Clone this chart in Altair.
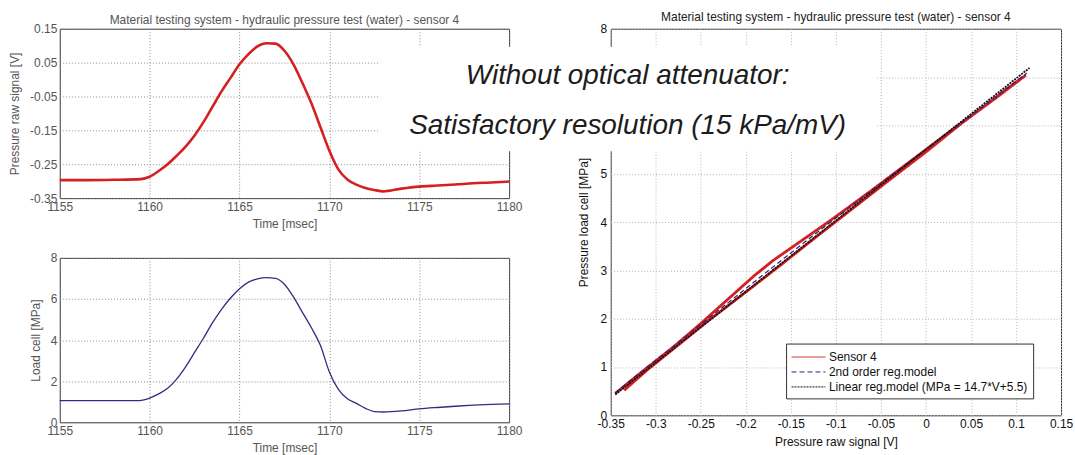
import altair as alt
import pandas as pd

FONT = "Liberation Sans"
TITLE = "Material testing system - hydraulic pressure test (water) - sensor 4"

# ---- pressure raw signal [V] over time [msec]
raw_time = [1155, 1156.5, 1158, 1159.5, 1160.0, 1160.5, 1161.0, 1161.5, 1162.0, 1162.5,
            1163.0, 1163.5, 1164.0, 1164.5, 1165.0, 1165.5, 1166.0, 1166.5, 1167.0, 1167.5,
            1168.0, 1168.5, 1169.0, 1169.5, 1170.0, 1170.5, 1171.0, 1171.5, 1172.0, 1172.5,
            1173.0, 1174.0, 1175.0, 1176.0, 1177.0, 1178.0, 1179.0, 1180.0]
raw_volts = [-0.297, -0.297, -0.296, -0.294, -0.287, -0.27, -0.25, -0.225, -0.198, -0.165,
             -0.125, -0.08, -0.035, 0.005, 0.045, 0.075, 0.098, 0.107, 0.106, 0.085,
             0.045, -0.01, -0.07, -0.14, -0.21, -0.265, -0.295, -0.31, -0.32, -0.326,
             -0.33, -0.322, -0.316, -0.313, -0.31, -0.306, -0.304, -0.301]

# ---- load cell [MPa] over time [msec]
cell_time = [1155, 1157, 1159.3, 1160.0, 1160.5, 1161.0, 1161.5, 1162.0, 1162.5, 1163.0,
             1163.5, 1164.0, 1164.5, 1165.0, 1165.5, 1166.0, 1166.5, 1167.0, 1167.5, 1168.0,
             1168.5, 1169.0, 1169.5, 1170.0, 1170.5, 1171.0, 1171.5, 1172.0, 1172.5, 1173.0,
             1174.0, 1175.0, 1176.0, 1177.0, 1178.0, 1179.0, 1180.0]
cell_mpa = [1.05, 1.05, 1.05, 1.18, 1.38, 1.65, 2.1, 2.7, 3.4, 4.1,
            4.85, 5.5, 6.05, 6.5, 6.82, 6.98, 7.04, 7.0, 6.72, 6.1,
            5.35, 4.6, 3.75, 2.45, 1.6, 1.15, 0.92, 0.68, 0.52, 0.5,
            0.55, 0.65, 0.72, 0.78, 0.83, 0.87, 0.9]

# ---- calibration: load cell vs raw signal (loading branch, then unloading branch)
sensor_v = [-0.345, -0.33, -0.31, -0.28, -0.25, -0.22, -0.19, -0.17, -0.15, -0.13,
            -0.11, -0.09, -0.06, -0.03, 0.0, 0.03, 0.06, 0.09, 0.111,
            0.08, 0.04, 0.0, -0.04, -0.08, -0.12, -0.16, -0.2, -0.24, -0.28, -0.31, -0.335]
sensor_mpa = [0.45, 0.68, 0.98, 1.42, 1.9, 2.4, 2.9, 3.2, 3.46, 3.72,
              3.98, 4.25, 4.66, 5.08, 5.5, 5.92, 6.33, 6.76, 7.04,
              6.6, 6.05, 5.45, 4.88, 4.3, 3.72, 3.13, 2.55, 1.98, 1.38, 0.93, 0.52]
quad_v = [-0.345, -0.25, -0.15, -0.05, 0.05, 0.112]
quad_mpa = [0.47, 1.88, 3.36, 4.8, 6.2, 7.08]
lin_v = [-0.345, 0.115]
lin_mpa = [0.43, 7.19]   # MPa = 14.7*V + 5.5

SERIES = ["Sensor 4", "2nd order reg.model", "Linear reg.model (MPa = 14.7*V+5.5)"]
SERIES_COLORS = ["#d42020", "#23237f", "#111111"]
SERIES_DASH = [[1, 0], [5, 3], [2, 1]]

time_ticks = [1155, 1160, 1165, 1170, 1175, 1180]
raw_ticks = [-0.35, -0.25, -0.15, -0.05, 0.05, 0.15]
cell_ticks = [0, 2, 4, 6, 8]
v_ticks = [-0.35, -0.3, -0.25, -0.2, -0.15, -0.1, -0.05, 0, 0.05, 0.1, 0.15]
mpa_ticks = [0, 1, 2, 3, 4, 5, 6, 7, 8]

W_L, H_T, H_B = 451, 170, 165
W_R, H_R = 452, 388


def axis(title, values, color, grid_color, label_pad, title_pad):
    return alt.Axis(
        title=title, values=values, labelExpr="toString(datum.value)",
        grid=True, gridColor=grid_color, gridDash=[1, 2], gridWidth=1,
        ticks=False, domain=False, labelFlush=False, labelOverlap=False,
        labelFont=FONT, labelFontSize=12, labelColor=color, labelPadding=label_pad,
        titleFont=FONT, titleFontSize=12, titleFontWeight="normal", titleColor=color,
        titlePadding=title_pad,
    )


one = pd.DataFrame({"k": [0]})


def heading(width, dy, color):
    # panel heading drawn as a text mark centred over the plot area
    return alt.Chart(one).mark_text(
        text=TITLE, font=FONT, fontSize=12, align="center", baseline="middle", color=color
    ).encode(x=alt.value(width / 2), y=alt.value(dy))


# invisible spacers that pin the extent of each column
left_pin = alt.Chart(one).mark_rect(opacity=0).encode(
    x=alt.value(-59), x2=alt.value(480), y=alt.value(-27), y2=alt.value(0))
right_pin = alt.Chart(one).mark_rect(opacity=0).encode(
    x=alt.value(-232), x2=alt.value(465), y=alt.value(-27), y2=alt.value(428))

df_raw = pd.DataFrame({"t": raw_time, "v": raw_volts})
top_line = alt.Chart(df_raw).mark_line(color="#d42020", strokeWidth=2.6, interpolate="monotone").encode(
    x=alt.X("t:Q", scale=alt.Scale(domain=[1155, 1180], nice=False, zero=False),
            axis=axis("Time [msec]", time_ticks, "#555", "#8c8c8c", 3, 6)),
    y=alt.Y("v:Q", scale=alt.Scale(domain=[-0.35, 0.15], nice=False, zero=False),
            axis=axis("Pressure raw signal [V]", raw_ticks, "#555", "#8c8c8c", 3, 8)),
)
top = alt.layer(left_pin, top_line, heading(W_L, -9, "#555")).properties(width=W_L, height=H_T)

df_cell = pd.DataFrame({"t": cell_time, "p": cell_mpa})
bottom = alt.Chart(df_cell).mark_line(color="#2e2e80", strokeWidth=1.3, interpolate="monotone").encode(
    x=alt.X("t:Q", scale=alt.Scale(domain=[1155, 1180], nice=False, zero=False),
            axis=axis("Time [msec]", time_ticks, "#555", "#8c8c8c", 3, 6)),
    y=alt.Y("p:Q", scale=alt.Scale(domain=[0, 8], nice=False),
            axis=axis("Load cell [MPa]", cell_ticks, "#555", "#8c8c8c", 3, 8)),
).properties(width=W_L, height=H_B)

legend = alt.Legend(
    orient="none", legendX=729, legendY=316, title=None,
    strokeColor="#333", fillColor="white", padding=5, rowPadding=0,
    symbolType="M-1,0H3.25", symbolSize=256, symbolStrokeWidth=1,
    labelFont=FONT, labelFontSize=12, labelColor="#111", labelOffset=21, labelLimit=400,
)
color_enc = alt.Color("series:N", scale=alt.Scale(domain=SERIES, range=SERIES_COLORS), legend=legend)
dash_enc = alt.StrokeDash("series:N", scale=alt.Scale(domain=SERIES, range=SERIES_DASH), legend=legend)
x_r = alt.X("v:Q", scale=alt.Scale(domain=[-0.35, 0.15], nice=False, zero=False),
            axis=axis("Pressure raw signal [V]", v_ticks, "#111", "#b5b5b5", 3, 7))
y_r = alt.Y("p:Q", scale=alt.Scale(domain=[0, 8], nice=False),
            axis=axis("Pressure load cell [MPa]", mpa_ticks, "#111", "#b5b5b5", 4, 10))

df_sensor = pd.DataFrame({"v": sensor_v, "p": sensor_mpa, "i": range(len(sensor_v)), "series": SERIES[0]})
df_quad = pd.DataFrame({"v": quad_v, "p": quad_mpa, "i": range(len(quad_v)), "series": SERIES[1]})
df_lin = pd.DataFrame({"v": lin_v, "p": lin_mpa, "i": range(len(lin_v)), "series": SERIES[2]})

sensor_line = alt.Chart(df_sensor).mark_line(strokeWidth=2.8).encode(
    x=x_r, y=y_r, order="i:Q", color=color_enc, strokeDash=dash_enc)
quad_line = alt.Chart(df_quad).mark_line(strokeWidth=1.2, interpolate="monotone").encode(
    x=x_r, y=y_r, order="i:Q", color=color_enc, strokeDash=dash_enc)
lin_line = alt.Chart(df_lin).mark_line(strokeWidth=1.8).encode(
    x=x_r, y=y_r, order="i:Q", color=color_enc, strokeDash=dash_enc)

# caption block laid over both columns
note_box = alt.Chart(one).mark_rect(color="white").encode(
    x=alt.value(-232), x2=alt.value(267), y=alt.value(18), y2=alt.value(123))
note_1 = alt.Chart(one).mark_text(
    text="Without optical attenuator:", font=FONT, fontStyle="italic", fontSize=28,
    align="center", baseline="alphabetic", color="#1c1c1c",
).encode(x=alt.value(17), y=alt.value(55))
note_2 = alt.Chart(one).mark_text(
    text="Satisfactory resolution (15 kPa/mV)", font=FONT, fontStyle="italic", fontSize=28,
    align="center", baseline="alphabetic", color="#1c1c1c",
).encode(x=alt.value(17), y=alt.value(106))

right = alt.layer(right_pin, sensor_line, quad_line, lin_line,
                  heading(W_R, -12, "#222"), note_box, note_1, note_2).properties(width=W_R, height=H_R)

left = alt.vconcat(top, bottom, spacing=60, bounds="flush")
# column spacing: 610 (right origin) - 59 - 480 (left extent) - 232 (right extent)
chart = alt.hconcat(left, right, spacing=-161).properties(
    padding=0, background="white"
).configure_view(stroke="#333", strokeWidth=1)

chart.save("out.html", embed_options={"renderer": "svg", "actions": False})
